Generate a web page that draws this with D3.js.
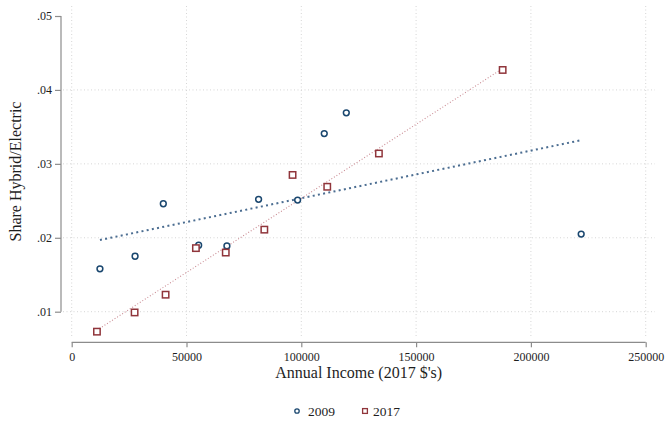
<!DOCTYPE html>
<html>
<head>
<meta charset="utf-8">
<script src="https://cdn.jsdelivr.net/npm/d3@7"></script>
<style>
  html, body { margin: 0; padding: 0; background: #ffffff; }
  svg { display: block; font-family: "Liberation Serif", "Times New Roman", serif; }
</style>
</head>
<body>
<svg id="chart" width="667" height="422"></svg>
<script>
// Household income (2017 dollars) and share of hybrid/electric vehicles, by income group
const income2009 = [12300, 27600, 39900, 55300, 67600, 81400, 98400, 110000, 119600, 221900];
const share2009  = [0.0158, 0.0175, 0.0246, 0.0190, 0.0189, 0.0252, 0.0251, 0.0341, 0.0369, 0.0205];
const income2017 = [11000, 27400, 40900, 54100, 67100, 83900, 96200, 111300, 133800, 187700];
const share2017  = [0.0073, 0.0099, 0.0123, 0.0186, 0.0180, 0.0211, 0.0285, 0.0269, 0.0314, 0.0427];

// Linear fit endpoints for each survey year
const fitIncome2009 = [12300, 221900];
const fitShare2009  = [0.0197, 0.0332];
const fitIncome2017 = [11000, 187700];
const fitShare2017  = [0.0075, 0.0429];

const xTicks = [0, 50000, 100000, 150000, 200000, 250000];
const yTicks = [0.01, 0.02, 0.03, 0.04, 0.05];
const legendLabels = ["2009", "2017"];

const BLUE = "#1a476f", RED = "#90353b";
const BLUE_FIT = "#4b6d91", RED_FIT = "#c98a92";

const svg = d3.select("#chart");
const x = d3.scaleLinear().domain([0, 250000]).range([71.7, 645.7]);
const y = d3.scaleLinear().domain([0.01, 0.05]).range([311.7, 16]);

// plot region bounds
const region = { left: 63, right: 655, top: 6, bottom: 337 };

// grid
const grid = svg.append("g").attr("stroke", "#d6d6d6").attr("stroke-width", 1)
  .attr("stroke-dasharray", "1,2.5");
grid.selectAll("line.v").data(xTicks).join("line")
  .attr("x1", d => x(d)).attr("x2", d => x(d))
  .attr("y1", region.top).attr("y2", region.bottom);
grid.selectAll("line.h").data(yTicks.filter(d => d < 0.05)).join("line")
  .attr("x1", region.left).attr("x2", region.right)
  .attr("y1", d => y(d)).attr("y2", d => y(d));

// y axis
const yAxis = d3.axisLeft(y).tickValues(yTicks).tickSize(6).tickPadding(3)
  .tickFormat(d => d3.format(".2f")(d).replace(/^0/, ""));
const gy = svg.append("g").attr("transform", "translate(61,0)").call(yAxis);
gy.select(".domain").attr("d", `M0,${y(0.05)}V${y(0.01)}`);

// x axis
const xAxis = d3.axisBottom(x).tickValues(xTicks).tickSize(5).tickPadding(5)
  .tickFormat(d3.format("d"));
const gx = svg.append("g").attr("transform", "translate(0,342.3)").call(xAxis);
gx.select(".domain").attr("d", `M${x(0)},0H${x(250000)}`);

[gx, gy].forEach(g => {
  g.select(".domain").attr("stroke", "#8c8c8c").attr("stroke-width", 1.2);
  g.selectAll(".tick line").attr("stroke", "#8c8c8c").attr("stroke-width", 1.2);
  g.selectAll(".tick text").attr("fill", "#1e1e1e")
    .style("font-family", "'Liberation Serif', serif").style("font-size", "12px");
});

// axis titles
svg.append("text").attr("x", (x(0) + x(250000)) / 2).attr("y", 378)
  .attr("text-anchor", "middle").attr("fill", "#1e1e1e").style("font-size", "16px")
  .text("Annual Income (2017 $'s)");
svg.append("text")
  .attr("transform", `translate(21,${(region.top + region.bottom) / 2}) rotate(-90)`)
  .attr("text-anchor", "middle").attr("fill", "#1e1e1e").style("font-size", "16px")
  .text("Share Hybrid/Electric");

// fitted lines
const line = d3.line().x(d => x(d[0])).y(d => y(d[1]));
svg.append("path").datum(d3.zip(fitIncome2009, fitShare2009))
  .attr("d", line).attr("fill", "none").attr("stroke", BLUE_FIT)
  .attr("stroke-width", 2).attr("stroke-dasharray", "2,3.3");
svg.append("path").datum(d3.zip(fitIncome2017, fitShare2017))
  .attr("d", line).attr("fill", "none").attr("stroke", RED_FIT)
  .attr("stroke-width", 1.1).attr("stroke-dasharray", "1,2");

// markers
svg.append("g").selectAll("circle").data(d3.zip(income2009, share2009)).join("circle")
  .attr("cx", d => x(d[0])).attr("cy", d => y(d[1])).attr("r", 2.9)
  .attr("fill", "white").attr("stroke", BLUE).attr("stroke-width", 1.5);
const sq = 6.4;
svg.append("g").selectAll("rect").data(d3.zip(income2017, share2017)).join("rect")
  .attr("x", d => x(d[0]) - sq / 2).attr("y", d => y(d[1]) - sq / 2)
  .attr("width", sq).attr("height", sq)
  .attr("fill", "white").attr("stroke", RED).attr("stroke-width", 1.5);

// legend
const leg = svg.append("g");
leg.append("circle").attr("cx", 297).attr("cy", 411).attr("r", 2.2)
  .attr("fill", "white").attr("stroke", BLUE).attr("stroke-width", 1.3);
leg.append("text").attr("x", 308).attr("y", 415.5).attr("fill", "#1e1e1e")
  .style("font-size", "13.5px").text(legendLabels[0]);
leg.append("rect").attr("x", 362.6).attr("y", 408.6).attr("width", 4.8).attr("height", 4.8)
  .attr("fill", "white").attr("stroke", RED).attr("stroke-width", 1.3);
leg.append("text").attr("x", 373).attr("y", 415.5).attr("fill", "#1e1e1e")
  .style("font-size", "13.5px").text(legendLabels[1]);
</script>
</body>
</html>
